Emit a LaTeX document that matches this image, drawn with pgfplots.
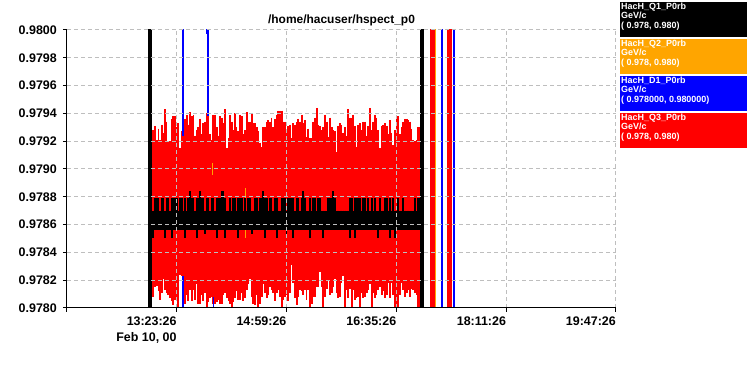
\documentclass[border=0pt]{standalone}
\usepackage{fontspec}
\setmainfont{Liberation Sans}
\usepackage{pgfplots}
\pgfplotsset{compat=1.18}
\usepackage{pgfplotstable}
\definecolor{orng}{RGB}{255,165,0}
\definecolor{gridg}{RGB}{190,190,190}

% HacH_Q3_P0rb: upper and lower envelope of the dense red trace
\pgfplotstableread{
t up lo
73.5 0.97926 0.97810
75.5 0.97928 0.97808
76.9 0.97931 0.97815
78.4 0.97921 0.97816
79.9 0.97929 0.97812
81.3 0.97921 0.97806
82.8 0.97932 0.97811
84.2 0.97926 0.97821
85.7 0.97943 0.97813
87.1 0.97934 0.97811
88.6 0.97920 0.97809
90.1 0.97920 0.97807
91.5 0.97936 0.97805
93.0 0.97938 0.97802
94.4 0.97938 0.97806
95.9 0.97930 0.97806
97.3 0.97933 0.97801
98.8 0.97915 0.97824
100.3 0.97927 0.97823
101.7 0.97924 0.97807
103.2 0.97936 0.97803
104.6 0.97939 0.97809
106.1 0.97932 0.97805
107.5 0.97941 0.97813
109.0 0.97938 0.97805
110.5 0.97939 0.97813
111.9 0.97924 0.97806
113.4 0.97928 0.97817
114.8 0.97930 0.97803
116.3 0.97936 0.97803
117.7 0.97925 0.97809
119.2 0.97933 0.97805
120.7 0.97934 0.97811
122.1 0.97940 0.97801
123.6 0.97940 0.97804
125.0 0.97925 0.97807
126.5 0.97921 0.97808
127.9 0.97939 0.97803
129.4 0.97939 0.97803
130.9 0.97930 0.97804
132.3 0.97924 0.97806
133.8 0.97938 0.97803
135.2 0.97937 0.97803
136.7 0.97933 0.97809
138.1 0.97943 0.97811
139.6 0.97915 0.97807
141.1 0.97922 0.97805
142.5 0.97939 0.97803
144.0 0.97934 0.97801
145.4 0.97928 0.97804
146.9 0.97940 0.97807
148.3 0.97930 0.97812
149.8 0.97927 0.97806
151.3 0.97939 0.97806
152.7 0.97938 0.97811
154.2 0.97925 0.97805
155.6 0.97928 0.97807
157.1 0.97941 0.97813
158.5 0.97934 0.97817
160.0 0.97934 0.97821
161.5 0.97940 0.97808
162.9 0.97933 0.97803
164.4 0.97933 0.97802
165.8 0.97930 0.97809
167.3 0.97927 0.97801
168.7 0.97919 0.97803
170.2 0.97916 0.97808
171.6 0.97930 0.97817
173.1 0.97930 0.97811
174.6 0.97934 0.97807
176.0 0.97935 0.97809
177.5 0.97934 0.97815
178.9 0.97937 0.97813
180.4 0.97930 0.97811
181.8 0.97936 0.97805
183.3 0.97939 0.97811
184.8 0.97942 0.97813
186.2 0.97942 0.97808
187.7 0.97942 0.97801
189.1 0.97934 0.97806
190.6 0.97934 0.97808
192.0 0.97926 0.97809
193.5 0.97931 0.97805
195.0 0.97932 0.97811
196.4 0.97922 0.97831
197.9 0.97933 0.97818
199.3 0.97932 0.97807
200.8 0.97934 0.97802
202.2 0.97936 0.97808
203.7 0.97934 0.97813
205.2 0.97939 0.97812
206.6 0.97933 0.97809
208.1 0.97935 0.97813
209.5 0.97923 0.97806
211.0 0.97929 0.97813
212.4 0.97922 0.97798
213.9 0.97922 0.97803
215.4 0.97934 0.97808
216.8 0.97937 0.97808
218.3 0.97944 0.97815
219.7 0.97932 0.97815
221.2 0.97931 0.97826
222.6 0.97928 0.97815
224.1 0.97930 0.97798
225.6 0.97939 0.97808
227.0 0.97934 0.97814
228.5 0.97923 0.97820
229.9 0.97937 0.97809
231.4 0.97930 0.97811
232.8 0.97928 0.97815
234.3 0.97927 0.97821
235.8 0.97912 0.97811
237.2 0.97931 0.97807
238.7 0.97933 0.97808
240.1 0.97932 0.97818
241.6 0.97926 0.97823
243.0 0.97930 0.97798
244.5 0.97924 0.97813
246.0 0.97943 0.97807
247.4 0.97937 0.97814
248.9 0.97937 0.97801
250.3 0.97939 0.97813
251.8 0.97931 0.97806
253.2 0.97916 0.97807
254.7 0.97932 0.97808
256.2 0.97933 0.97798
257.6 0.97928 0.97811
259.1 0.97934 0.97807
260.5 0.97934 0.97808
262.0 0.97924 0.97811
263.4 0.97931 0.97813
264.9 0.97944 0.97817
266.4 0.97928 0.97798
267.8 0.97934 0.97811
269.3 0.97939 0.97807
270.7 0.97937 0.97809
272.2 0.97928 0.97813
273.6 0.97915 0.97815
275.1 0.97931 0.97809
276.6 0.97932 0.97812
278.0 0.97933 0.97807
279.5 0.97931 0.97809
280.9 0.97925 0.97818
282.4 0.97935 0.97807
283.8 0.97926 0.97818
285.3 0.97917 0.97809
286.8 0.97928 0.97798
288.2 0.97936 0.97798
289.7 0.97938 0.97798
291.1 0.97925 0.97809
292.6 0.97930 0.97818
294.0 0.97934 0.97813
295.5 0.97936 0.97808
297.0 0.97936 0.97811
298.4 0.97935 0.97813
299.9 0.97934 0.97808
301.3 0.97929 0.97814
302.8 0.97921 0.97813
304.2 0.97920 0.97811
305.7 0.97921 0.97809
307.2 0.97930 0.97798
308.1 0.97930 0.97798
}\redtab

% HacH_Q1_P0rb: upper and lower envelope of the dense black trace
\pgfplotstableread{
t up lo
73.5 0.97870 0.97856
75.5 0.97870 0.97850
76.9 0.97879 0.97856
78.4 0.97879 0.97856
79.9 0.97879 0.97856
81.3 0.97870 0.97856
82.8 0.97879 0.97856
84.2 0.97879 0.97856
85.7 0.97870 0.97850
87.1 0.97879 0.97856
88.6 0.97879 0.97856
90.1 0.97870 0.97856
91.5 0.97879 0.97850
93.0 0.97879 0.97856
94.4 0.97879 0.97856
95.9 0.97879 0.97856
97.3 0.97870 0.97856
98.8 0.97879 0.97856
100.3 0.97879 0.97856
101.7 0.97870 0.97856
103.2 0.97879 0.97850
104.6 0.97870 0.97856
106.1 0.97879 0.97856
107.5 0.97884 0.97856
109.0 0.97879 0.97856
110.5 0.97879 0.97856
111.9 0.97870 0.97856
113.4 0.97879 0.97850
114.8 0.97879 0.97856
116.3 0.97884 0.97856
117.7 0.97879 0.97856
119.2 0.97879 0.97856
120.7 0.97870 0.97853
122.1 0.97879 0.97856
123.6 0.97879 0.97856
125.0 0.97870 0.97856
126.5 0.97879 0.97856
127.9 0.97879 0.97856
129.4 0.97870 0.97856
130.9 0.97879 0.97850
132.3 0.97879 0.97856
133.8 0.97879 0.97856
135.2 0.97884 0.97856
136.7 0.97884 0.97856
138.1 0.97879 0.97850
139.6 0.97870 0.97856
141.1 0.97870 0.97856
142.5 0.97879 0.97856
144.0 0.97870 0.97856
145.4 0.97879 0.97856
146.9 0.97879 0.97856
148.3 0.97870 0.97856
149.8 0.97879 0.97850
151.3 0.97879 0.97856
152.7 0.97879 0.97856
154.2 0.97870 0.97856
155.6 0.97879 0.97856
157.1 0.97870 0.97856
158.5 0.97879 0.97856
160.0 0.97879 0.97856
161.5 0.97870 0.97853
162.9 0.97870 0.97856
164.4 0.97879 0.97856
165.8 0.97879 0.97856
167.3 0.97870 0.97856
168.7 0.97879 0.97856
170.2 0.97879 0.97856
171.6 0.97884 0.97856
173.1 0.97879 0.97850
174.6 0.97879 0.97856
176.0 0.97870 0.97856
177.5 0.97879 0.97856
178.9 0.97879 0.97856
180.4 0.97870 0.97856
181.8 0.97879 0.97856
183.3 0.97879 0.97850
184.8 0.97870 0.97856
186.2 0.97870 0.97856
187.7 0.97879 0.97856
189.1 0.97879 0.97856
190.6 0.97879 0.97856
192.0 0.97870 0.97850
193.5 0.97879 0.97856
195.0 0.97879 0.97856
196.4 0.97879 0.97856
197.9 0.97879 0.97850
199.3 0.97870 0.97856
200.8 0.97879 0.97856
202.2 0.97879 0.97856
203.7 0.97870 0.97856
205.2 0.97879 0.97856
206.6 0.97884 0.97856
208.1 0.97879 0.97856
209.5 0.97870 0.97856
211.0 0.97870 0.97856
212.4 0.97879 0.97850
213.9 0.97870 0.97856
215.4 0.97879 0.97856
216.8 0.97879 0.97856
218.3 0.97870 0.97856
219.7 0.97879 0.97856
221.2 0.97879 0.97856
222.6 0.97870 0.97856
224.1 0.97870 0.97850
225.6 0.97870 0.97856
227.0 0.97870 0.97856
228.5 0.97879 0.97856
229.9 0.97879 0.97856
231.4 0.97879 0.97856
232.8 0.97884 0.97856
234.3 0.97879 0.97856
235.8 0.97870 0.97856
237.2 0.97870 0.97856
238.7 0.97870 0.97856
240.1 0.97870 0.97856
241.6 0.97870 0.97856
243.0 0.97870 0.97856
244.5 0.97870 0.97856
246.0 0.97870 0.97856
247.4 0.97879 0.97850
248.9 0.97879 0.97856
250.3 0.97870 0.97856
251.8 0.97879 0.97850
253.2 0.97879 0.97856
254.7 0.97879 0.97856
256.2 0.97879 0.97856
257.6 0.97870 0.97856
259.1 0.97879 0.97856
260.5 0.97879 0.97856
262.0 0.97870 0.97856
263.4 0.97879 0.97856
264.9 0.97870 0.97856
266.4 0.97879 0.97856
267.8 0.97870 0.97856
269.3 0.97879 0.97856
270.7 0.97870 0.97856
272.2 0.97870 0.97850
273.6 0.97879 0.97856
275.1 0.97870 0.97856
276.6 0.97870 0.97856
278.0 0.97879 0.97856
279.5 0.97879 0.97856
280.9 0.97870 0.97856
282.4 0.97879 0.97850
283.8 0.97870 0.97856
285.3 0.97879 0.97856
286.8 0.97870 0.97850
288.2 0.97870 0.97856
289.7 0.97879 0.97856
291.1 0.97870 0.97856
292.6 0.97870 0.97856
294.0 0.97879 0.97856
295.5 0.97870 0.97856
297.0 0.97870 0.97856
298.4 0.97870 0.97856
299.9 0.97870 0.97856
301.3 0.97870 0.97856
302.8 0.97870 0.97856
304.2 0.97879 0.97856
305.7 0.97870 0.97856
307.2 0.97879 0.97856
308.1 0.97879 0.97856
}\blacktab

\begin{document}
\begin{tikzpicture}
\path[use as bounding box] (-67bp,-67bp) rectangle (681bp,308bp);
\begin{axis}[
  at={(0,0)}, anchor=south west,
  scale only axis, width=549bp, height=278bp,
  xmin=0, xmax=480, ymin=0.978, ymax=0.980,
  axis x line*=bottom, axis y line*=left,
  axis line style={line width=1bp, black},
  axis on top,
  xtick={0,96,192,288,384,480},
  xticklabels={,{13:23:26\\Feb 10, 00},14:59:26,16:35:26,18:11:26,19:47:26},
  ytick={0.9780,0.9782,0.9784,0.9786,0.9788,0.9790,0.9792,0.9794,0.9796,0.9798,0.9800},
  yticklabels={0.9780,0.9782,0.9784,0.9786,0.9788,0.9790,0.9792,0.9794,0.9796,0.9798,0.9800},
  scaled y ticks=false, scaled x ticks=false,
  tick align=outside, major tick length=4bp,
  tick style={black, line width=1bp},
  grid=major,
  grid style={gridg, dash pattern=on 4bp off 3bp, line width=1bp},
  x tick label style={font=\bfseries\fontsize{12.5}{16}\selectfont, anchor=north east, align=right, inner sep=0pt, yshift=-5bp},
  y tick label style={font=\bfseries\fontsize{12.5}{15}\selectfont, anchor=east, inner sep=0pt, xshift=-6bp},
]
% HacH_Q3_P0rb (red): each sample drawn from its low to its high envelope
\addplot[draw=none, mark=none,
  error bars/.cd, y dir=both, y explicit,
  error mark=none,
  error bar style={draw=red, line width=1.75bp, line cap=butt}]
  table[x=t, y=up, y error plus expr=0, y error minus expr=\thisrow{up}-\thisrow{lo}] {\redtab};
% HacH_Q1_P0rb (black)
\addplot[draw=none, mark=none,
  error bars/.cd, y dir=both, y explicit,
  error mark=none,
  error bar style={draw=black, line width=1.75bp, line cap=butt}]
  table[x=t, y=up, y error plus expr=0, y error minus expr=\thisrow{up}-\thisrow{lo}] {\blacktab};
% off-scale excursions
\addplot[black, line width=4bp] coordinates {(72.3,0.9775) (72.3,0.9805)};
\addplot[black, line width=4bp] coordinates {(310.4,0.9775) (310.4,0.9805)};
\addplot[red, line width=5bp] coordinates {(319.6,0.9775) (319.6,0.9805)};
\addplot[red, line width=5bp] coordinates {(334.2,0.9775) (334.2,0.9805)};
% HacH_D1_P0rb (blue)
\addplot[blue, line width=2bp] coordinates {(101.2,0.9805) (101.2,0.97924)};
\addplot[blue, line width=2bp] coordinates {(101.2,0.97823) (101.2,0.9775)};
\addplot[blue, line width=2bp] coordinates {(123.5,0.9805) (123.5,0.97938)};
\addplot[blue, line width=1.5bp] coordinates {(122.4,0.9805) (122.4,0.97997)};
\addplot[blue, line width=1.5bp] coordinates {(127.9,0.97808) (127.9,0.9775)};
\addplot[blue, line width=2bp] coordinates {(327.9,0.9775) (327.9,0.9805)};
\addplot[blue, line width=2bp] coordinates {(338.1,0.9775) (338.1,0.9805)};
% HacH_Q2_P0rb (orange)
\addplot[orng, line width=1bp] coordinates {(126.9,0.97904) (126.9,0.97896)};
\addplot[orng, line width=1bp] coordinates {(155.8,0.97886) (155.8,0.97879)};
\addplot[orng, line width=1bp] coordinates {(155.8,0.97856) (155.8,0.97850)};
\addplot[orng, line width=1.2bp] coordinates {(322.2,0.9775) (322.2,0.9805)};
\end{axis}
\node[font=\bfseries\fontsize{12}{14}\selectfont, anchor=base] at (274.5bp,284bp) {/home/hacuser/hspect\_p0};
% legend boxes
\fill[black] (553bp,271bp) rectangle (680bp,306bp);
\fill[orng]  (553bp,234bp) rectangle (680bp,269bp);
\fill[blue]  (553bp,197bp) rectangle (680bp,232bp);
\fill[red]   (553bp,160bp) rectangle (680bp,195bp);
\begin{scope}[every node/.style={anchor=base west, text=white, inner sep=0pt, font=\bfseries\fontsize{9}{10}\selectfont}]
\node at (554bp,298.5bp) {HacH\_Q1\_P0rb};
\node at (554bp,289bp) {GeV/c};
\node at (554bp,279.5bp) {( 0.978, 0.980)};
\node at (554bp,261.5bp) {HacH\_Q2\_P0rb};
\node at (554bp,252bp) {GeV/c};
\node at (554bp,242.5bp) {( 0.978, 0.980)};
\node at (554bp,224.5bp) {HacH\_D1\_P0rb};
\node at (554bp,215bp) {GeV/c};
\node at (554bp,205.5bp) {( 0.978000, 0.980000)};
\node at (554bp,187.5bp) {HacH\_Q3\_P0rb};
\node at (554bp,178bp) {GeV/c};
\node at (554bp,168.5bp) {( 0.978, 0.980)};
\end{scope}
\end{tikzpicture}
\end{document}
